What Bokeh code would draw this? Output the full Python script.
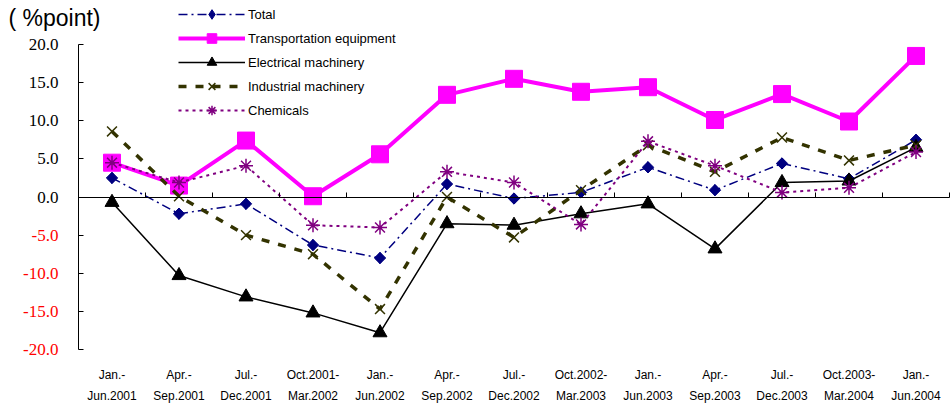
import math
from bokeh.plotting import figure
from bokeh.models import (ColumnDataSource, Range1d, FixedTicker, LinearAxis,
                          Label, LabelSet, Legend, LegendItem)
from bokeh.embed import file_html
from bokeh.resources import INLINE

categories = ["Jan.-\nJun.2001", "Apr.-\nSep.2001", "Jul.-\nDec.2001", "Oct.2001-\nMar.2002",
              "Jan.-\nJun.2002", "Apr.-\nSep.2002", "Jul.-\nDec.2002", "Oct.2002-\nMar.2003",
              "Jan.-\nJun.2003", "Apr.-\nSep.2003", "Jul.-\nDec.2003", "Oct.2003-\nMar.2004",
              "Jan.-\nJun.2004"]
total = [2.5, -2.2, -0.9, -6.3, -8.0, 1.7, -0.2, 0.6, 3.9, 0.9, 4.4, 2.4, 7.5]
transport = [4.5, 1.5, 7.4, 0.1, 5.6, 13.4, 15.5, 13.8, 14.4, 10.1, 13.5, 9.9, 18.5]
electrical = [-0.7, -10.3, -13.1, -15.2, -17.8, -3.5, -3.7, -2.2, -0.9, -6.8, 1.9, 2.1, 6.5]
industrial = [8.6, 0.1, -5.0, -7.5, -14.7, 0.0, -5.3, 0.9, 6.8, 3.3, 7.8, 4.8, 6.8]
chemicals = [4.5, 1.9, 4.1, -3.7, -4.0, 3.3, 1.9, -3.6, 7.3, 4.1, 0.6, 1.2, 5.9]
y_ticks = [20, 15, 10, 5, 0, -5, -10, -15, -20]

n = len(categories)
xs = [i + 0.5 for i in range(n)]

# plot area: axis from x=78 px to 949 px (67 px per band), y 20 -> 44 px, -20 -> 349 px
px_x = 67.0
px_y = 7.625
p = figure(width=950, height=412, output_backend="svg", toolbar_location=None,
           x_range=Range1d(-78 / px_x, n + 1 / px_x),
           y_range=Range1d(-20 - 10 / px_y, 20 + 44 / px_y),
           min_border_left=0, min_border_right=0, min_border_top=0, min_border_bottom=53,
           x_axis_type=None, y_axis_type=None)
p.outline_line_color = None
p.xgrid.visible = False
p.ygrid.visible = False
p.background_fill_color = "white"
p.border_fill_color = "white"

# y axis line + inward ticks at x = 0
yax = LinearAxis(ticker=FixedTicker(ticks=y_ticks), fixed_location=0, bounds=(-20, 20),
                 axis_line_color="black", major_tick_in=5, major_tick_out=0,
                 minor_tick_line_color=None, major_label_text_font_size="0px")
p.add_layout(yax, "left")

# zero line with upward ticks at band boundaries
zax = LinearAxis(ticker=FixedTicker(ticks=list(range(1, n + 1))), fixed_location=0,
                 bounds=(0, n), axis_line_color="black", major_tick_in=0, major_tick_out=5,
                 minor_tick_line_color=None, major_label_text_font_size="0px")
p.add_layout(zax, "above")

# category labels below
xax = LinearAxis(ticker=FixedTicker(ticks=xs),
                 major_label_overrides={x: c for x, c in zip(xs, categories)},
                 axis_line_color=None, major_tick_line_color=None, minor_tick_line_color=None,
                 major_label_text_font="Liberation Sans", major_label_text_font_size="12px",
                 major_label_text_color="black", major_label_standoff=2,
                 major_label_text_line_height=1.5)
p.add_layout(xax, "below")

# y tick labels (negative ones in red)
lab_src = ColumnDataSource(dict(x=[0] * len(y_ticks), y=y_ticks,
                                t=["%.1f" % v for v in y_ticks],
                                c=["black" if v >= 0 else "#FF0000" for v in y_ticks]))
p.add_layout(LabelSet(x="x", y="y", text="t", source=lab_src, x_offset=-20,
                      text_align="right", text_baseline="middle", text_color="c",
                      text_font="Liberation Sans", text_font_size="17px"))

p.add_layout(Label(x=0, y=20, text="( %point)", x_offset=-70, y_offset=27,
                   text_align="left", text_baseline="middle",
                   text_font="Liberation Sans", text_font_size="23px", text_color="black"))

src = ColumnDataSource(dict(x=xs, total=total, transport=transport, electrical=electrical,
                            industrial=industrial, chemicals=chemicals))

l1 = p.line("x", "total", source=src, line_color="#000080", line_width=1.5, line_dash="9 4 2 4")
# diamond used for the legend (hidden under the rotated squares in the plot)
s1_leg = p.scatter("x", "total", source=src, marker="diamond", size=11, fill_color="#000080",
                   line_color="#000080")
s1 = p.scatter("x", "total", source=src, marker="square", angle=math.pi / 4, size=8,
               fill_color="#000080", line_color="#000080")
l2 = p.line("x", "transport", source=src, line_color="#FF00FF", line_width=4)
s2 = p.scatter("x", "transport", source=src, marker="square", size=17, fill_color="#FF00FF",
               line_color="#FF00FF")
l3 = p.line("x", "electrical", source=src, line_color="black", line_width=1.5)
s3 = p.scatter("x", "electrical", source=src, marker="triangle", size=14, fill_color="black",
               line_color="black")
l4 = p.line("x", "industrial", source=src, line_color="#333300", line_width=3.5, line_dash="8 9")
s4 = p.scatter("x", "industrial", source=src, marker="x", size=14, line_color="#333300",
               line_width=1.5)
l5 = p.line("x", "chemicals", source=src, line_color="#800080", line_width=2, line_dash="3 4")
s5 = p.scatter("x", "chemicals", source=src, marker="asterisk", size=14, line_color="#800080",
               line_width=1.5)

legend = Legend(items=[
    LegendItem(label="Total", renderers=[l1, s1_leg]),
    LegendItem(label="Transportation equipment", renderers=[l2, s2]),
    LegendItem(label="Electrical machinery", renderers=[l3, s3]),
    LegendItem(label="Industrial machinery", renderers=[l4, s4]),
    LegendItem(label="Chemicals", renderers=[l5, s5]),
], location=(178, 237), orientation="vertical", glyph_width=67, glyph_height=24,
    label_height=24, label_standoff=3, spacing=0, padding=0, margin=0,
    border_line_color=None, background_fill_alpha=0,
    label_text_font="Liberation Sans", label_text_font_size="13px", label_text_color="black")
p.add_layout(legend, "center")

open("out.html", "w").write(file_html(p, INLINE))
